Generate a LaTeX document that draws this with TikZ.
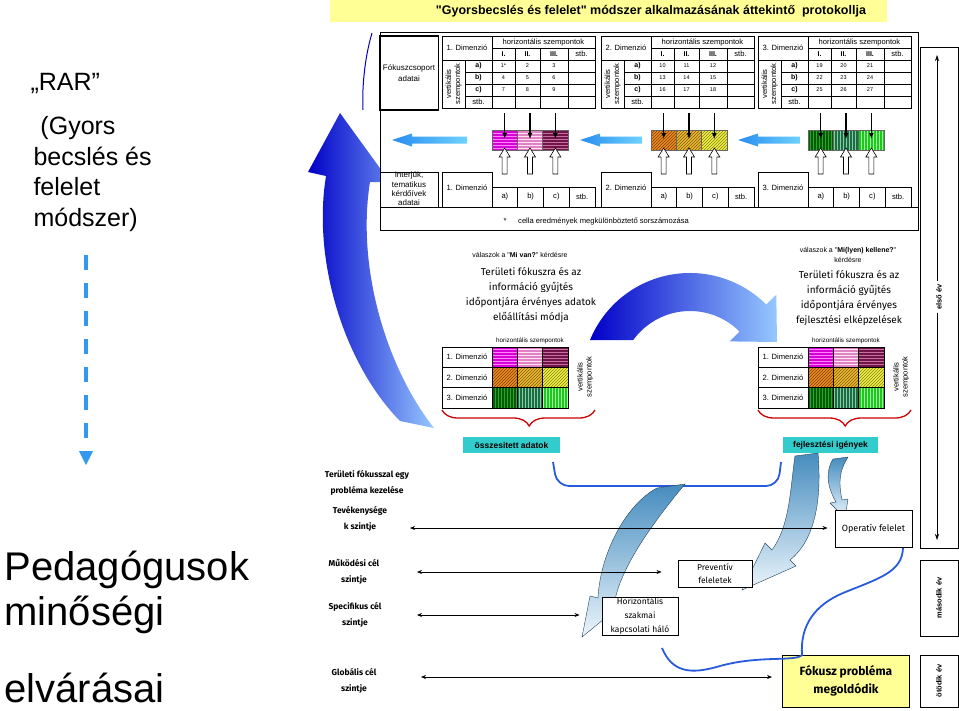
\documentclass[tikz,border=0pt]{standalone}
\usepackage{fontspec}
\setmainfont{Liberation Sans}[Ligatures=TeXOff]
\newfontfamily\comic{Fira Sans}[Ligatures=TeXOff]
\usetikzlibrary{positioning,patterns,decorations.pathreplacing,arrows.meta}

\newcommand\fsz[2]{\fontsize{#1}{#2}\selectfont}

\definecolor{titleyellow}{RGB}{255,255,150}
\definecolor{boxcyan}{RGB}{51,204,204}
\definecolor{darkblue}{RGB}{0,0,200}
\definecolor{lightblue}{RGB}{150,200,255}
\definecolor{arrblue}{RGB}{40,140,240}
\definecolor{arrcyan}{RGB}{110,210,255}
\definecolor{steel}{RGB}{70,140,190}
\definecolor{paleblue}{RGB}{235,245,252}
\definecolor{dashblue}{RGB}{51,153,238}
\definecolor{linkblue}{RGB}{40,90,220}
\definecolor{mag}{RGB}{215,0,215}   \definecolor{magl}{RGB}{255,130,255}
\definecolor{pnk}{RGB}{225,130,195} \definecolor{pnkl}{RGB}{255,230,245}
\definecolor{marn}{RGB}{110,20,70}  \definecolor{marnl}{RGB}{200,110,160}
\definecolor{orng}{RGB}{235,140,30} \definecolor{orngl}{RGB}{130,60,0}
\definecolor{gld}{RGB}{235,185,50}  \definecolor{gldl}{RGB}{130,90,0}
\definecolor{yel}{RGB}{240,240,80}  \definecolor{yell}{RGB}{130,130,0}
\definecolor{gra}{RGB}{0,95,0}      \definecolor{gral}{RGB}{50,160,50}
\definecolor{grb}{RGB}{25,110,70}   \definecolor{grbl}{RGB}{140,200,160}
\definecolor{grc}{RGB}{30,200,30}   \definecolor{grcl}{RGB}{160,255,160}

% one dimension table at the top: x, dimension, first number
\newcommand\dimtable[3]{%
  \begin{scope}[shift={(#1,0)}]
    \draw[tbl] (0,36) rectangle (153,108);
    \draw[tbl] (50,36) -- (50,108) (0,60) -- (153,60) (50,48) -- (153,48) (23,60) -- (23,108);
    \foreach \cx in {73,98,126} \draw[tbl] (\cx,48) -- (\cx,108);
    \foreach \ry in {72,84,96} \draw[tbl] (23,\ry) -- (153,\ry);
    \node[txt] (dim#2) at (25,48) {#2. Dimenzió};
    \node[txt] (hor#2) at (101.5,42) {horizontális szempontok};
    \node[txt, rotate=90, align=center] (ver#2) at (11.5,84) {vertikális\\szempontok};
    \foreach \lab/\cx [count=\i] in {I./61.5,II./85.5,III./112} \node[txtb] (h#2\i) at (\cx,54) {\lab};
    \node[txt] (h#2s) at (139.5,54) {stb.};
    \foreach \lab/\ry [count=\i] in {a)/66,b)/78,c)/90} \node[txtb] (r#2\i) at (36.5,\ry) {\lab};
    \node[txt] (r#2s) at (36.5,102) {stb.};
    \foreach \r in {0,1,2}{\foreach \c/\cx in {0/61.5,1/85.5,2/112}{%
      \pgfmathtruncatemacro\num{#3+3*\r+\c}%
      \node[numtxt] (n\num) at (\cx,{66+12*\r}) {\num\ifnum\num=1 *\fi};}}
  \end{scope}}

% lower row of boxes: x, dimension
\newcommand\dimrow[2]{%
  \begin{scope}[shift={(#1,0)}]
    \node[draw, tbl, minimum width=50, minimum height=35] (low#2) at (25,189.5) {};
    \node[txt] (lowt#2) at (25,188) {#2. Dimenzió};
    \foreach \lab [count=\i] in {a),b),c),stb.}
      \node[draw, tbl, txt, minimum width=25.75, minimum height=20] (low#2\i) at ({50+25.75*(\i-0.5)},197) {\lab};
  \end{scope}}

\newcommand\hollow[1]{%
  \draw[fill=white, line width=0.6pt] ({#1-2.5},174) -- ({#1-2.5},157) -- ({#1-5.5},157) -- ({#1},148)
    -- ({#1+5.5},157) -- ({#1+2.5},157) -- ({#1+2.5},174) -- cycle;}

% cyan arrow pointing left: tip x, tail x
\newcommand\cyanarrow[2]{%
  \shade[left color=arrblue, right color=arrcyan] (#1,140) -- ({#1+20},133.5) -- ({#1+20},136.5)
    -- (#2,136.5) -- (#2,143.5) -- ({#1+20},143.5) -- ({#1+20},146.5) -- cycle;}

% coloured result cells with their arrows: x, dimension
\newcommand\colcells[2]{%
  \foreach \k/\st in {0/a,1/b,2/c}{%
    \path[d#2\st, draw=black!60, line width=0.4pt] ({#1+25.33*\k},130) rectangle ({#1+25.33*(\k+1)},150);
    \coordinate (in#2\k) at ({#1+25.33*(\k+0.5)},113);
    \coordinate (at#2\k) at ({#1+25.33*(\k+0.5)},139);
    \draw[blackarr] (in#2\k) -- (at#2\k);
    \hollow{#1+25.33*(\k+0.5)}}}

% summary table in the middle: x
\newcommand\sumtable[1]{%
  \begin{scope}[shift={(#1,0)}]
    \foreach \d/\ytop/\ybot in {1/347/367.3,2/367.3/387.6,3/387.6/408}{%
      \node[draw, tbl, txt, minimum width=50, minimum height=20.3] (s#1d\d) at (25,{(\ytop+\ybot)/2}) {\d. Dimenzió};
      \foreach \k/\st in {0/a,1/b,2/c}
        \path[d\d\st, draw=black, line width=0.5pt] ({50+25.33*\k},\ytop) rectangle ({50+25.33*(\k+1)},\ybot);}
    \draw[tbl] (0,347) rectangle (126,408);
    \node[font=\fsz{6.3}{7}, inner sep=0pt] (sh#1) at (88,341) {horizontális szempontok};
    \node[txt, rotate=90, align=center] (sv#1) at (143,377) {vertikális\\szempontok};
    \draw[bracered] (153,410) -- (0,410);
  \end{scope}}

\begin{document}
\begin{tikzpicture}[x=1pt, y=-1pt,
  tbl/.style={line width=0.6pt},
  txt/.style={font=\fsz{7.6}{9}, inner sep=0pt},
  txtb/.style={font=\bfseries\fsz{7}{8}, inner sep=0pt},
  numtxt/.style={font=\fsz{5.5}{6}, inner sep=0pt},
  comictxt/.style={font=\comic\fsz{10}{15}, align=center},
  lvltxt/.style={font=\comic\bfseries\fsz{8.5}{16.5}, align=center},
  lvl/.style={{Stealth[length=5pt,width=4pt]}-{Stealth[length=5pt,width=4pt]}, line width=0.6pt},
  blackarr/.style={-{Latex[length=6pt,width=5pt]}, line width=1.4pt},
  cyanbox/.style={fill=boxcyan, font=\bfseries\fsz{8.5}{10}, inner sep=0pt},
  combox/.style={draw, line width=0.9pt, fill=white, font=\comic\fsz{8.5}{14}, align=center, inner sep=0pt},
  ribbon/.style={top color=steel, bottom color=paleblue, draw=steel!50!black, line width=0.4pt},
  bracered/.style={decorate, decoration={brace, amplitude=16pt, aspect=0.43}, red!80!black, line width=1.3pt},
  d1a/.style={preaction={fill=mag}, pattern=horizontal lines, pattern color=magl},
  d1b/.style={preaction={fill=pnk}, pattern=horizontal lines, pattern color=pnkl},
  d1c/.style={preaction={fill=marn}, pattern=horizontal lines, pattern color=marnl},
  d2a/.style={preaction={fill=orng}, pattern=north east lines, pattern color=orngl},
  d2b/.style={preaction={fill=gld}, pattern=north east lines, pattern color=gldl},
  d2c/.style={preaction={fill=yel}, pattern=north east lines, pattern color=yell},
  d3a/.style={preaction={fill=gra}, pattern=vertical lines, pattern color=gral},
  d3b/.style={preaction={fill=grb}, pattern=vertical lines, pattern color=grbl},
  d3c/.style={preaction={fill=grc}, pattern=vertical lines, pattern color=grcl}]

\useasboundingbox (0,0) rectangle (959,710);

% title
\fill[titleyellow] (330,0) rectangle (887,22);
\node[font=\bfseries\fsz{12.5}{14}] (title) at (651,11) {"Gyorsbecslés és felelet" módszer alkalmazásának áttekintő\ \ protokollja};

% left texts
\node[font=\fsz{25}{30}, anchor=west] (rar) at (27,83) {„RAR”};
\node[font=\fsz{25}{30.5}, align=left, anchor=west] (gyors) at (30,174) {\ (Gyors\\becslés és\\felelet\\módszer)};
\node[font=\fsz{40}{44}, anchor=west] (ped) at (1,570) {Pedagógusok};
\node[font=\fsz{40}{44}, anchor=west] (minos) at (1,615) {minőségi};
\node[font=\fsz{40}{44}, anchor=west] (elvar) at (1,688) {elvárásai};

\coordinate (dtop) at (86,255);
\coordinate (dbot) at (86,451);
\coordinate (dtip) at (86,465);
\draw[dashblue, line width=3.5pt, dash pattern=on 15pt off 13pt] (dtop) -- (dbot);
\fill[dashblue] (dbot) ++(-7,0) -- (dtip) -- ++(7,-14) -- cycle;

% big curved arrow on the left
\shade[left color=darkblue, right color=lightblue] (400,421) -- (434,428)
  .. controls (388,370) and (356,270) .. (370,182) -- (390,182) -- (340,113) -- (308,172) -- (326,176)
  .. controls (312,262) and (345,365) .. (400,421) -- cycle;
\draw[darkblue, line width=1pt] (372,33) .. controls (364,60) and (362,90) .. (363,110);

% frame of the data collection
\draw[line width=1pt, fill=white] (380,32) rectangle (918,230);
\draw[line width=0.8pt] (380,207) -- (918,207);
\node[draw, line width=1.4pt, minimum width=56, minimum height=74, align=center, font=\fsz{8}{11.5}] (fokcs) at (409,73) {Fókuszcsoport\\adatai};
\node[draw, tbl, minimum width=58, minimum height=35] (interj) at (409,189.5) {};
\node[font=\fsz{8}{9.3}, align=center, inner sep=0pt] (interjtxt) at (409,189) {Interjúk,\\tematikus\\kérdőívek\\adatai};

\dimtable{442}{1}{1}
\dimtable{601}{2}{10}
\dimtable{758}{3}{19}
\dimrow{442}{1}
\dimrow{601}{2}
\dimrow{758}{3}
\colcells{492}{1}
\colcells{651}{2}
\colcells{808}{3}

\cyanarrow{392}{467}
\cyanarrow{580}{642}
\cyanarrow{738}{800}

\node[font=\fsz{7.6}{9}, inner sep=0pt] (star) at (505,221) {*};
\node[font=\fsz{7.6}{9}, inner sep=0pt, anchor=west] (note) at (518,221) {cella eredmények megkülönböztető sorszámozása};

% first year
\draw[line width=0.8pt] (920,47) rectangle (958,548);
\coordinate (evtop) at (937,55);
\coordinate (evbot) at (937,540);
\draw[{Stealth[length=6pt,width=4pt]}-{Stealth[length=6pt,width=4pt]}, line width=0.6pt] (evtop) -- (evbot);
\node[rotate=90, fill=white, font=\bfseries\fsz{7.5}{9}, inner sep=3pt] (elso) at (939,297) {első év};

% arc arrow between the questions
\shade[left color=darkblue, right color=lightblue] (590,340) arc[start angle=202.3, end angle=315, radius=108]
  -- (776.3,294.7) -- (777,342) -- (729.6,341.4) -- (739.5,331.5)
  arc[start angle=315, end angle=215.8, radius=70] -- cycle;

\node[font=\fsz{7}{8}] (mivan) at (520,255) {válaszok a "\textbf{Mi van?}" kérdésre};
\node[comictxt] (mivantxt) at (531,295) {Területi fókuszra és az\\információ gyűjtés\\időpontjára érvényes adatok\\előállítási módja};
\node[font=\fsz{7}{10}, align=center] (milyen) at (848,255) {válaszok a "\textbf{Mi(lyen) kellene?}"\\kérdésre};
\node[comictxt] (milyentxt) at (849,298) {Területi fókuszra és az\\információ gyűjtés\\időpontjára érvényes\\fejlesztési elképzelések};

\sumtable{442}
\sumtable{758}

\node[cyanbox, minimum width=97, minimum height=16] (ossz) at (511.5,445) {összesitett adatok};
\node[cyanbox, minimum width=95, minimum height=16] (fejl) at (830.5,445) {fejlesztési igények};

% bottom part
\draw[linkblue, line width=1.8pt, rounded corners=12pt] (553,462) -- (557,486) -- (778,486) -- (781,462);

\shade[ribbon] (657,488) -- (685,484) .. controls (655,520) and (622,565) .. (615,600)
  -- (625,602) -- (582,637) -- (590,596) -- (598,598) .. controls (600,555) and (625,505) .. (657,488) -- cycle;
\shade[ribbon] (795,456) -- (818,453) .. controls (822,500) and (815,540) .. (790,560)
  -- (796,566) -- (742,590) -- (765,543) -- (772,550) .. controls (790,525) and (790,490) .. (795,456) -- cycle;
\shade[ribbon] (833,459) -- (848,457) .. controls (840,470) and (838,480) .. (842,500)
  -- (848,499) -- (845,518) -- (830,503) -- (836,502) .. controls (826,485) and (826,470) .. (833,459) -- cycle;

\node[lvltxt] (terul) at (367,483) {Területi fókusszal egy\\probléma kezelése};
\node[lvltxt] (tev) at (360,519) {Tevékenysége\\k szintje};
\node[lvltxt] (muk) at (354,572) {Működési cél\\szintje};
\node[lvltxt] (spec) at (355,615) {Specifikus cél\\szintje};
\node[lvltxt] (glob) at (354,681) {Globális cél\\szintje};

\node[combox, minimum width=77, minimum height=37, font=\comic\fsz{9}{14}] (oper) at (873.5,528.5) {Operatív felelet};
\node[combox, minimum width=74, minimum height=27, font=\comic\fsz{8.5}{13}] (prev) at (715,573.5) {Preventív\\feleletek};
\node[combox, minimum width=76, minimum height=38] (horiz) at (640,616) {Horizontális\\szakmai\\kapcsolati háló};
\node[combox, minimum width=127, minimum height=52, fill=titleyellow, font=\comic\bfseries\fsz{12}{18}] (fokusz) at (846,681) {Fókusz probléma\\megoldódik};

\node[draw, line width=0.9pt, minimum width=38, minimum height=76] (masodik) at (939,598) {};
\node[rotate=90, font=\bfseries\fsz{7.5}{9}] (masodiktxt) at (masodik) {második év};
\node[draw, line width=0.9pt, minimum width=38, minimum height=52] (otodik) at (939,681) {};
\node[rotate=90, font=\bfseries\fsz{7.5}{9}] (otodiktxt) at (otodik) {ötödik év};

\coordinate (tevl) at (410,528);
\coordinate (mukl) at (417,572);
\coordinate (specl) at (417,615);
\coordinate (globl) at (421,677);
\draw[lvl, shorten >=7pt] (tevl) -- (tevl -| oper.west);
\draw[lvl, shorten >=16pt] (mukl) -- (mukl -| prev.west);
\draw[lvl, shorten >=22pt] (specl) -- (specl -| horiz.west);
\draw[lvl, shorten >=10pt] (globl) -- (globl -| fokusz.west);

\coordinate (operfoot) at (903,548);
\draw[linkblue, line width=1.8pt] (662,648) .. controls (672,672) and (690,675) .. (720,666)
  .. controls (760,655) and (795,662) .. (802,655)
  .. controls (800,625) and (815,605) .. (843,593)
  .. controls (880,578) and (902,572) .. (operfoot);

\end{tikzpicture}
\end{document}
